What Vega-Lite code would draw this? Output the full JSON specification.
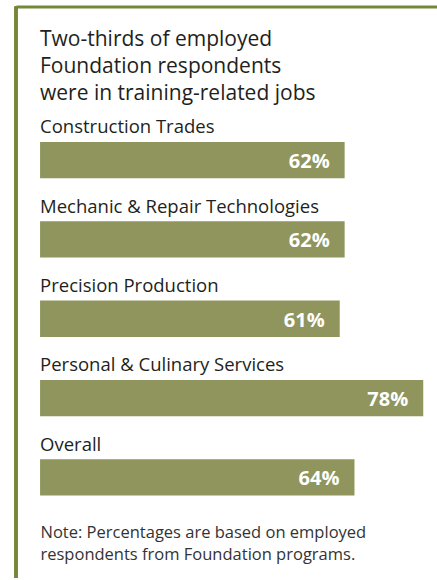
{
  "$schema": "https://vega.github.io/schema/vega-lite/v6.json",
  "width": 437,
  "height": 580,
  "autosize": {"type": "fit", "contains": "padding"},
  "padding": {"left": 14, "top": 4.5, "right": 0, "bottom": 0},
  "background": "white",
  "title": {
    "text": ["Two-thirds of employed", "Foundation respondents", "were in training-related jobs"],
    "anchor": "start",
    "frame": "group",
    "orient": "top",
    "offset": -115.5,
    "dx": 24,
    "baseline": "alphabetic",
    "lineHeight": 27,
    "font": "Open Sans",
    "fontSize": 21,
    "fontWeight": "normal",
    "color": "#231F20"
  },
  "data": {
    "values": [
      {"program": "Construction Trades", "pct": 0.62},
      {"program": "Mechanic & Repair Technologies", "pct": 0.62},
      {"program": "Precision Production", "pct": 0.61},
      {"program": "Personal & Culinary Services", "pct": 0.78},
      {"program": "Overall", "pct": 0.64}
    ]
  },
  "layer": [
    {
      "mark": {"type": "bar", "color": "#8F955D"},
      "encoding": {
        "y": {
          "field": "program",
          "type": "nominal",
          "sort": null,
          "scale": {"range": [135.5, 489], "paddingInner": 0.542, "paddingOuter": 0},
          "axis": null
        },
        "x": {
          "field": "pct",
          "type": "quantitative",
          "scale": {"domain": [-0.049, 0.808], "nice": false, "zero": false},
          "axis": {
            "orient": "top",
            "domain": true,
            "domainColor": "#77873A",
            "domainWidth": 3,
            "labels": false,
            "ticks": false,
            "grid": false,
            "title": ["Note: Percentages are based on employed", "respondents from Foundation programs."],
            "titleFont": "Open Sans",
            "titleFontSize": 16.5,
            "titleFontWeight": "normal",
            "titleColor": "#333333",
            "titleX": 24,
            "titleY": 530.5,
            "titleAlign": "left",
            "titleBaseline": "alphabetic",
            "titleLineHeight": 22
          }
        }
      }
    },
    {
      "mark": {"type": "rule", "color": "#77873A", "strokeWidth": 3},
      "encoding": {
        "x": {"datum": -0.049, "type": "quantitative"}
      }
    },
    {
      "mark": {
        "type": "text",
        "align": "left",
        "baseline": "alphabetic",
        "dy": -26.7,
        "font": "Open Sans",
        "fontSize": 18.5,
        "color": "#231F20"
      },
      "encoding": {
        "y": {"field": "program", "type": "nominal", "sort": null},
        "x": {"datum": 0, "type": "quantitative"},
        "text": {"field": "program", "type": "nominal"}
      }
    },
    {
      "mark": {
        "type": "text",
        "align": "right",
        "baseline": "alphabetic",
        "dx": -15,
        "dy": 8,
        "font": "Open Sans",
        "fontSize": 20,
        "fontWeight": "bold",
        "color": "white"
      },
      "encoding": {
        "y": {"field": "program", "type": "nominal", "sort": null},
        "x": {"field": "pct", "type": "quantitative"},
        "text": {"field": "pct", "type": "quantitative", "format": ".0%"}
      }
    }
  ],
  "config": {
    "view": {"stroke": null}
  }
}
